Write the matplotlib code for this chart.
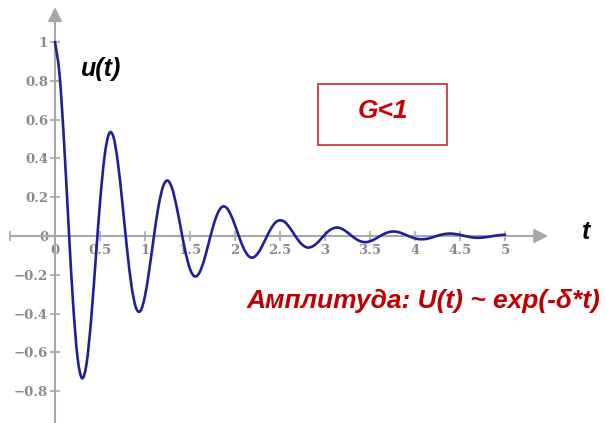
import numpy as np
import matplotlib
matplotlib.use("Agg")
import matplotlib.pyplot as plt
from matplotlib.patches import Rectangle, PathPatch
from matplotlib.path import Path

u_values = [
    1.000, 0.835, 0.489, 0.061, -0.341, -0.624, -0.733, -0.660, -0.438, -0.134,
    0.172, 0.409, 0.527, 0.510, 0.374, 0.164, -0.065, -0.257, -0.370, -0.386,
    -0.309, -0.166, 0.001, 0.153, 0.254, 0.286, 0.247, 0.154, 0.034, -0.083,
    -0.170, -0.208, -0.193, -0.135, -0.050, 0.038, 0.109, 0.148, 0.148, 0.113,
    0.055, -0.010, -0.067, -0.103, -0.111, -0.092, -0.053, -0.006, 0.038, 0.070,
    0.081, 0.073, 0.048, 0.014, -0.020, -0.046, -0.059, -0.056, -0.041, -0.018,
    0.008, 0.029, 0.041, 0.043, 0.034, 0.018, -0.0005, -0.017, -0.028, -0.032,
    -0.027, -0.017, -0.0035, 0.0094, 0.0189, 0.0231, 0.0214, 0.0148, 0.0054, -0.0044,
    -0.0122, -0.0164, -0.0164, -0.0125, -0.0060, 0.0013, 0.0075, 0.0114, 0.0123, 0.0101,
    0.0058, 0.0006, -0.0043, -0.0078, -0.0090, -0.0080, -0.0053, -0.0015, 0.0022, 0.0051,
    0.0065,
]
t_start, t_end = 0.0, 5.0
t_values = np.linspace(t_start, t_end, len(u_values))

x_ticks = [-0.5, 0, 0.5, 1, 1.5, 2, 2.5, 3, 3.5, 4, 4.5, 5]
x_tick_labels = ["", "0", "0.5", "1", "1.5", "2", "2.5", "3", "3.5", "4", "4.5", "5"]
y_ticks = [-0.8, -0.6, -0.4, -0.2, 0, 0.2, 0.4, 0.6, 0.8, 1]
y_tick_labels = ["\u22120.8", "\u22120.6", "\u22120.4", "\u22120.2", "0",
                 "0.2", "0.4", "0.6", "0.8", "1"]

y_label = "u(t)"
x_label = "t"
box_text = "G<1"
note_text = "Амплитуда: U(t) ~ exp(-δ*t)"

# ---- figure ----
W, H = 607, 423
fig = plt.figure(figsize=(W / 100, H / 100), dpi=100)
ax = fig.add_axes([0, 0, 1, 1])

x0_px, x_scale = 55.0, 90.0
y0_px, y_scale = 236.0, 194.0
ax.set_xlim(-x0_px / x_scale, (W - x0_px) / x_scale)
ax.set_ylim(-(H - y0_px) / y_scale, y0_px / y_scale)

axis_color = "#a8a8a8"
label_color = "#8a8a8a"

for side in ("top", "right"):
    ax.spines[side].set_visible(False)
ax.spines["left"].set_position(("data", 0))
ax.spines["bottom"].set_position(("data", 0))
for side in ("left", "bottom"):
    ax.spines[side].set_color(axis_color)
    ax.spines[side].set_linewidth(1.5)
ax.spines["left"].set_bounds(ax.get_ylim()[0], 1.12)
ax.spines["bottom"].set_bounds(-0.5, 5.36)

# arrow heads
ap = dict(arrowstyle="-|>,head_length=0.7,head_width=0.35", color=axis_color,
          lw=1.5, shrinkA=0, shrinkB=0, mutation_scale=12)
ax.annotate("", xy=(0, 1.18), xytext=(0, 1.10), arrowprops=ap, annotation_clip=False)
ax.annotate("", xy=(5.48, 0), xytext=(5.3, 0), arrowprops=ap, annotation_clip=False)

tick_font = dict(family="DejaVu Serif", weight="bold", size=9.5)
ax.set_xticks(x_ticks)
ax.set_xticklabels(x_tick_labels, fontdict=tick_font, color=label_color)
ax.set_yticks(y_ticks)
ax.set_yticklabels(y_tick_labels, fontdict=tick_font, color=label_color)
ax.tick_params(axis="both", direction="inout", length=7, width=1.2, color=axis_color)
ax.tick_params(axis="x", pad=2)
ax.tick_params(axis="y", pad=1.5)

# smooth line drawn through the sampled points (Catmull-Rom as cubic Bezier)
P = np.column_stack([t_values, np.asarray(u_values, dtype=float)])
Pe = np.vstack([P[0], P, P[-1]])
verts = [tuple(P[0])]
codes = [Path.MOVETO]
for i in range(len(P) - 1):
    p0, p1, p2, p3 = Pe[i], Pe[i + 1], Pe[i + 2], Pe[i + 3]
    c1 = p1 + (p2 - p0) / 6.0
    c2 = p2 - (p3 - p1) / 6.0
    verts += [tuple(c1), tuple(c2), tuple(p2)]
    codes += [Path.CURVE4] * 3
curve = PathPatch(Path(verts, codes), fill=False, edgecolor="#1f1f9c", lw=1.9,
                  zorder=3, capstyle="round", joinstyle="round")
ax.add_patch(curve)


def px(x, y):
    return x / W, 1 - y / H


fig.text(*px(101, 69), y_label, ha="center", va="center", fontsize=18,
         fontweight="bold", fontstyle="italic", family="Liberation Sans", color="black")
fig.text(*px(586, 232), x_label, ha="center", va="center", fontsize=18,
         fontweight="bold", fontstyle="italic", family="Liberation Sans", color="black")

bx0, by0, bx1, by1 = 318, 84, 447, 145
fig.add_artist(Rectangle(px(bx0, by1), (bx1 - bx0) / W, (by1 - by0) / H,
                         transform=fig.transFigure, fill=False,
                         edgecolor="#d03a3a", lw=1.3))
fig.text(*px(383, 111), box_text, ha="center", va="center", fontsize=19,
         fontweight="bold", fontstyle="italic", family="Liberation Sans", color="#cc0000")

fig.text(*px(423, 301), note_text, ha="center", va="center", fontsize=19,
         fontweight="bold", fontstyle="italic", family="Liberation Sans", color="#c00000")

fig.savefig("out.png", dpi=100, facecolor="white")
